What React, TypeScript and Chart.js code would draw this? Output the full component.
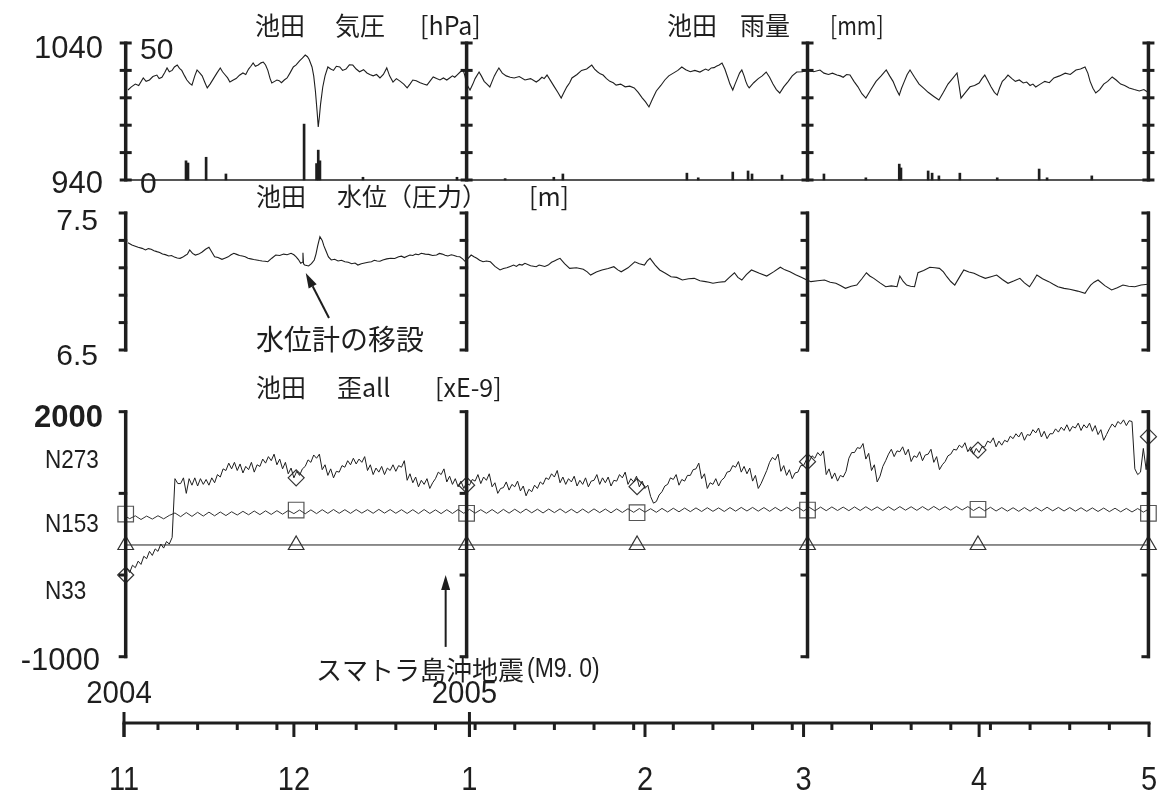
import React, { useEffect, useRef } from 'react';
import { Chart, registerables } from 'chart.js';

Chart.register(...registerables);

const W = 1163;
const H = 796;
const INK = '#1e1e1e';
const NUM = '"Liberation Sans", Arial, sans-serif';
const CJK = '"Noto Sans CJK JP", "Noto Sans CJK SC", sans-serif';

// ---- time axis: days since 2004-11-01 ----
const monthDays = [0, 30, 61, 92, 120, 151, 181];
const monthLabels = ['11', '12', '1', '2', '3', '4', '5'];
const yearDays = [0, 61];
const yearLabels = ['2004', '2005'];
const weekDays = [6, 13, 20, 27, 34, 41, 48, 55, 62, 69, 76, 83, 90, 97, 104, 111, 118, 125, 132, 139, 146, 153, 160, 167, 174];
const panelAxisDays = [0.3, 60.5, 120.7, 180.9];
const markerDays = [0.3, 30.4, 60.5, 90.6, 120.7, 150.8, 180.9];

// ---- axis tick values ----
const pressureTicks = [940, 960, 980, 1000, 1020, 1040];
const waterTicks = [6.5, 6.7, 6.9, 7.1, 7.3, 7.5];
const strainTicks = [-1000, 0, 1000, 2000];

// ---- 池田 気圧 [hPa]  (day, hPa) ----
const pressure: [number, number][] = [
  [0.7, 1005.7], [1.3, 1008], [2.0, 1010], [2.6, 1009], [3.4, 1014.5], [3.9, 1012], [4.5, 1013], [5.1, 1015.5], [5.8, 1016.6], [6.2, 1014], [6.7, 1015], [7.2, 1018.5], [7.6, 1021.8], [8.0, 1019], [8.5, 1020],
  [8.9, 1022.5], [9.4, 1023.9], [9.8, 1021.5], [10.2, 1020], [10.7, 1016], [11.1, 1013], [11.6, 1010.5], [12.0, 1009.3], [12.5, 1016], [12.9, 1020.3], [13.4, 1018], [13.8, 1016], [14.3, 1011], [14.7, 1007.2], [15.2, 1010], [15.8, 1014],
  [16.4, 1018], [17.0, 1021.8], [17.4, 1019], [17.8, 1017], [18.3, 1014.5], [18.7, 1011.5], [19.3, 1013], [19.8, 1014], [20.4, 1016.5], [21.0, 1018.1], [21.5, 1017], [22.0, 1021], [22.4, 1023], [22.8, 1025.4], [23.2, 1023], [23.7, 1024],
  [24.2, 1025.5], [24.6, 1026.1], [25.0, 1024], [25.4, 1020], [25.8, 1014], [26.1, 1010.8], [26.6, 1012], [27.0, 1013], [27.4, 1012.5], [27.8, 1011], [28.3, 1013], [28.8, 1014.5], [29.3, 1018], [29.9, 1022.5], [30.4, 1024], [31.0, 1027], [31.5, 1029],
  [32.0, 1031.2], [32.4, 1030], [32.7, 1028], [33.2, 1022.5], [33.5, 1016], [33.8, 1005], [34.1, 990], [34.3, 978.7], [34.5, 986], [34.7, 995], [35.1, 1007.9], [35.5, 1016], [36.0, 1022.5], [36.5, 1021], [37.0, 1020], [37.5, 1023], [38.1, 1022.5],
  [38.6, 1020], [39.2, 1021], [39.8, 1024], [40.4, 1023.9], [41.0, 1021], [41.6, 1019], [42.3, 1020.5], [42.9, 1018.1], [43.4, 1017], [44.0, 1016], [44.6, 1017], [45.2, 1014.5], [45.8, 1017], [46.4, 1021.8], [46.9, 1016], [47.5, 1011.5], [48.1, 1014], [48.8, 1012], [49.4, 1010], [50.0, 1007.2], [50.5, 1010], [51.0, 1013], [51.6, 1012.5],
  [52.3, 1011], [52.9, 1010], [53.5, 1009.3], [54.1, 1012.5], [54.6, 1015.2], [55.2, 1014], [55.8, 1013], [56.4, 1014.5], [57.0, 1013], [57.5, 1014.5], [58.0, 1016], [58.4, 1015], [58.8, 1016.6], [59.4, 1019], [59.9, 1020.3], [60.2, 1016], [60.5, 1010], [61.1, 1005.7], [61.6, 1010], [62.0, 1014],
  [62.7, 1018.8], [63.1, 1016], [63.6, 1012], [64.1, 1010], [64.6, 1007.9], [65.0, 1012], [65.4, 1016], [65.8, 1019], [66.2, 1021.8], [66.8, 1018], [67.5, 1016], [68.2, 1015], [68.9, 1014.5], [69.8, 1015.5], [70.8, 1013], [71.8, 1014],
  [72.8, 1011.5], [73.3, 1013], [73.8, 1015], [74.2, 1014], [74.7, 1016.6], [75.4, 1012], [76.0, 1008], [76.6, 1004], [77.2, 999.8], [77.7, 1004], [78.2, 1008], [78.7, 1011], [79.1, 1014.5], [80.0, 1017], [80.8, 1020], [81.7, 1021],
  [82.6, 1023.9], [83.1, 1021], [83.6, 1019], [84.1, 1017.5], [84.6, 1016.6], [85.2, 1014], [85.8, 1012], [86.4, 1011], [86.9, 1009.3], [87.7, 1010], [88.5, 1008], [89.3, 1008.5], [90.1, 1007.2], [90.8, 1004], [91.5, 1000],
  [92.1, 997], [92.7, 993.3], [93.3, 999], [94.0, 1005], [94.8, 1009], [95.5, 1013], [96.2, 1016], [97.0, 1018], [97.8, 1020], [98.5, 1022.5], [99.2, 1020.5], [100.0, 1019], [100.8, 1020], [101.7, 1018.8], [102.2, 1020], [102.7, 1021],
  [103.2, 1020], [103.7, 1021.8], [104.2, 1022], [104.6, 1023], [105.1, 1024], [105.6, 1025.4], [106.1, 1021], [106.6, 1015], [107.0, 1010], [107.5, 1005.7], [107.9, 1010], [108.3, 1014], [108.7, 1018], [109.1, 1020.3], [109.5, 1016], [109.8, 1012],
  [110.1, 1009], [110.4, 1007.2], [111.2, 1011], [112.0, 1014], [112.7, 1016], [113.4, 1018.8], [114.0, 1015], [114.6, 1010], [115.2, 1006], [115.8, 1003.5], [116.5, 1008], [117.3, 1012], [118.0, 1016], [118.8, 1018.8], [119.8, 1019], [120.8, 1020.3],
  [121.8, 1019], [122.9, 1020.3], [123.6, 1018], [124.4, 1017], [125.1, 1018], [125.9, 1016.6], [126.5, 1016], [127.0, 1015], [127.6, 1017], [128.2, 1016.6], [128.9, 1012], [129.6, 1008], [130.3, 1003], [131.0, 999.8], [131.9, 1006], [132.8, 1012],
  [133.7, 1016], [134.6, 1020.3], [135.2, 1016], [135.8, 1012], [136.4, 1006], [136.9, 1002], [137.3, 1007], [137.8, 1012], [138.3, 1017], [138.8, 1020.3], [139.6, 1015], [140.4, 1010], [141.2, 1007], [142.0, 1004], [143.0, 1001], [143.9, 998.4],
  [144.7, 1004], [145.5, 1010], [146.3, 1014], [147.1, 1018.1], [147.5, 1008], [147.8, 999.8], [148.6, 1004], [149.4, 1008], [150.2, 1009], [151.0, 1010.8], [151.5, 1014], [152.0, 1016.6], [152.6, 1012], [153.1, 1008], [153.7, 1004], [154.2, 1002],
  [154.6, 1007], [155.1, 1012], [155.6, 1014], [156.1, 1016.6], [156.8, 1014], [157.4, 1012], [158.1, 1013], [158.8, 1010.8], [159.4, 1011.5], [160.0, 1009], [160.5, 1010], [161.0, 1007.9], [161.8, 1010], [162.6, 1012], [163.4, 1011], [164.2, 1014.5],
  [165.2, 1016], [166.2, 1018], [167.1, 1017], [168.1, 1020.3], [168.9, 1021], [169.7, 1022.5], [170.2, 1018], [170.6, 1012], [171.1, 1007], [171.6, 1003.5], [172.3, 1006], [173.0, 1010], [173.7, 1012], [174.5, 1015.2], [175.2, 1013], [176.0, 1010],
  [176.7, 1009], [177.5, 1007.2], [178.4, 1006], [179.3, 1005], [180.1, 1006], [181.0, 1003.5],
];

// ---- 池田 雨量 [mm]  (day, mm) ----
const rain: [number, number][] = [
  [10.95, 7.0], [11.3, 6.2], [14.5, 8.3], [18.0, 2.2], [31.8, 20.4], [34.0, 6.0], [34.3, 10.9], [34.6, 7.0],
  [42.2, 1.0], [58.8, 1.0], [67.3, 0.5], [75.9, 1.0], [77.5, 2.2], [99.4, 2.5], [101.4, 0.8], [107.5, 2.9],
  [110.2, 3.3], [110.9, 2.2], [116.2, 1.8], [123.6, 2.2], [131.0, 0.8], [136.9, 5.8], [137.2, 4.4], [142.0, 3.3],
  [142.7, 2.5], [143.9, 1.5], [147.6, 2.5], [154.2, 0.8], [161.6, 4.0], [163.0, 0.8], [170.9, 1.5],
];

// ---- 池田 水位（圧力） [m]  (day, m) ----
const water: [number, number][] = [
  [0.7, 7.283], [1.4, 7.266], [2.0, 7.258], [2.5, 7.25], [3.2, 7.242], [3.8, 7.23], [4.3, 7.24], [4.8, 7.235], [5.3, 7.225], [5.8, 7.218], [6.3, 7.212], [6.8, 7.2], [7.3, 7.196], [7.9, 7.186],
  [8.4, 7.19], [8.9, 7.178], [9.4, 7.172], [9.9, 7.169], [10.4, 7.178], [10.8, 7.19], [11.2, 7.2], [11.6, 7.23], [12.1, 7.205], [12.6, 7.193], [13.2, 7.2], [13.8, 7.215], [14.4, 7.235], [15.0, 7.25], [15.5, 7.215], [16.0, 7.181],
  [16.6, 7.175], [17.3, 7.162], [17.8, 7.17], [18.4, 7.18], [18.9, 7.195], [19.4, 7.206], [19.9, 7.198], [20.4, 7.19], [20.9, 7.186], [21.4, 7.181], [21.9, 7.17], [22.4, 7.165], [22.9, 7.16], [23.4, 7.157], [23.9, 7.153], [24.4, 7.15], [24.9, 7.148],
  [25.4, 7.144], [26.1, 7.17], [26.8, 7.193], [27.5, 7.19], [28.2, 7.2], [28.8, 7.195], [29.5, 7.206], [30.0, 7.195], [30.4, 7.18], [30.8, 7.16], [31.2, 7.133], [31.5, 7.14], [31.6, 7.21], [31.7, 7.13],
  [31.9, 7.12], [32.6, 7.113], [33.1, 7.13], [33.6, 7.157], [33.9, 7.2], [34.2, 7.26], [34.6, 7.327], [35.0, 7.3], [35.3, 7.26], [35.6, 7.23], [36.1, 7.18], [36.6, 7.157], [37.2, 7.162], [37.8, 7.15], [38.4, 7.155],
  [39.0, 7.144], [39.6, 7.14], [40.2, 7.13], [40.8, 7.135], [41.3, 7.12], [41.9, 7.13], [42.5, 7.135], [43.1, 7.14], [43.7, 7.144], [44.2, 7.155], [44.7, 7.15], [45.2, 7.148], [45.7, 7.157], [46.4, 7.165], [47.1, 7.17], [47.8, 7.168], [48.5, 7.181], [49.0, 7.185], [49.5, 7.175], [50.0, 7.185], [50.5, 7.193], [51.0, 7.19], [51.5, 7.2], [52.0, 7.195], [52.5, 7.206], [53.2, 7.2], [53.8, 7.198], [54.5, 7.19], [55.2, 7.193],
  [55.7, 7.205], [56.2, 7.2], [56.7, 7.192], [57.2, 7.186], [57.8, 7.195], [58.3, 7.19], [58.8, 7.182], [59.3, 7.181], [59.8, 7.165], [60.3, 7.144], [60.8, 7.17], [61.3, 7.193], [61.8, 7.18], [62.3, 7.17], [62.8, 7.155], [63.4, 7.144], [64.0, 7.15],
  [64.7, 7.144], [65.5, 7.11], [66.4, 7.084], [67.0, 7.095], [67.6, 7.1], [68.2, 7.11], [68.8, 7.12], [69.3, 7.11], [69.8, 7.125], [70.3, 7.12], [70.8, 7.133], [71.8, 7.115], [72.8, 7.108], [73.3, 7.12], [73.8, 7.115], [74.3, 7.11],
  [74.9, 7.12], [75.5, 7.14], [76.0, 7.15], [76.5, 7.16], [77.0, 7.169], [77.8, 7.13], [78.7, 7.096], [79.9, 7.1], [81.1, 7.089], [81.8, 7.07], [82.4, 7.047], [83.4, 7.07], [84.4, 7.084], [85.5, 7.095], [86.5, 7.108], [87.2, 7.085],
  [87.8, 7.071], [89.0, 7.1], [90.2, 7.144], [91.0, 7.13], [91.9, 7.12], [92.4, 7.15], [92.9, 7.169], [93.8, 7.12], [94.6, 7.084], [95.6, 7.06], [96.6, 7.035], [97.6, 7.03], [98.6, 7.011], [99.7, 7.02], [100.7, 7.023],
  [101.7, 7.005], [102.7, 6.999], [103.3, 6.995], [104.0, 6.987], [105.0, 6.995], [106.1, 6.999], [106.9, 7.03], [107.8, 7.064], [108.4, 7.03], [109.1, 7.011], [109.9, 7.05], [110.8, 7.084], [112.2, 7.06], [113.5, 7.04], [114.7, 7.07], [115.9, 7.104],
  [116.7, 7.085], [117.6, 7.071], [118.6, 7.05], [119.6, 7.031], [120.4, 7.015], [121.3, 6.999], [122.5, 7.005], [123.7, 7.011], [124.7, 6.995], [125.7, 6.987], [126.5, 6.97], [127.4, 6.95], [128.4, 6.965], [129.4, 6.974], [130.3, 7.02], [131.1, 7.064],
  [131.7, 7.04], [132.4, 7.023], [133.5, 6.99], [134.5, 6.962], [135.5, 6.968], [136.5, 6.962], [137.0, 7.04], [137.6, 7.0], [138.2, 6.974], [138.9, 6.965], [139.6, 6.962], [140.2, 7.064], [141.2, 7.08], [142.3, 7.104], [143.2, 7.1],
  [144.0, 7.096], [144.7, 7.07], [145.3, 7.035], [146.0, 7.0], [146.7, 6.974], [147.5, 7.03], [148.3, 7.084], [149.2, 7.07], [150.1, 7.06], [151.1, 7.04], [152.1, 7.023], [153.1, 7.035], [154.1, 7.047], [155.1, 7.015], [156.1, 6.987],
  [157.2, 7.005], [158.2, 7.023], [159.0, 6.99], [159.9, 6.962], [160.5, 7.0], [161.2, 7.047], [162.2, 7.02], [163.3, 6.999], [164.1, 6.98], [164.9, 6.962], [166.0, 6.95], [167.0, 6.943], [168.4, 6.93], [169.7, 6.914], [170.2, 6.945], [170.7, 6.974],
  [171.3, 6.995], [172.0, 7.011], [173.2, 6.97], [174.4, 6.938], [175.4, 6.955], [176.4, 6.974], [177.4, 6.965], [178.5, 6.962], [179.6, 6.975], [180.8, 6.98],
];

// ---- 池田 歪all [xE-9] ----
// N273: one value every half day (day 0, 0.5, 1, ... 181)
const n273 = [
  0, 80, 30, 120, 90, 170, 130, 230, 200, 290, 240, 320, 290, 380, 330, 410, 380, 460, 1180, 1120,
  1120, 1190, 1000, 1180, 1100, 1190, 1090, 1180, 1110, 1170, 1100, 1190, 1130, 1230, 1200, 1300, 1280, 1370, 1300, 1380,
  1280, 1360, 1250, 1330, 1290, 1380, 1260, 1350, 1330, 1420, 1370, 1450, 1400, 1480, 1350, 1420, 1300, 1380, 1240, 1310,
  1190, 1270, 1220, 1300, 1330, 1410, 1380, 1470, 1430, 1480, 1290, 1350, 1220, 1300, 1190, 1270, 1260, 1340, 1320, 1400,
  1350, 1430, 1360, 1420, 1380, 1450, 1280, 1350, 1230, 1310, 1260, 1330, 1230, 1310, 1280, 1350, 1270, 1340, 1320, 1400,
  1160, 1240, 1130, 1200, 1080, 1160, 1110, 1180, 1060, 1130, 1180, 1260, 1230, 1300, 1140, 1210, 1110, 1180, 1080, 1150,
  1060, 1130, 1100, 1170, 1150, 1230, 1120, 1200, 1160, 1240, 1080, 1130, 1000, 1060, 1070, 1140, 1040, 1110, 1080, 1150,
  1030, 1090, 970, 1050, 1020, 1100, 1060, 1140, 1110, 1190, 1170, 1240, 1200, 1280, 1130, 1200, 1110, 1180, 1140, 1210,
  1090, 1160, 1110, 1190, 1080, 1150, 1160, 1230, 1110, 1190, 1130, 1200, 1090, 1160, 1150, 1230, 1190, 1260, 1110, 1180,
  1140, 1210, 1080, 1150, 1060, 1100, 960, 880, 900, 980, 1020, 1090, 1110, 1190, 1170, 1230, 1100, 1170, 1150, 1220,
  1220, 1290, 1300, 1370, 1180, 1240, 1060, 1130, 1110, 1180, 1090, 1160, 1190, 1260, 1270, 1340, 1320, 1390, 1260, 1330,
  1240, 1310, 1150, 1220, 1060, 1120, 1200, 1280, 1380, 1440, 1410, 1480, 1270, 1340, 1220, 1290, 1180, 1250, 1260, 1340,
  1340, 1410, 1390, 1460, 1430, 1500, 1460, 1520, 1230, 1300, 1180, 1250, 1150, 1220, 1200, 1270, 1430, 1500, 1500, 1560,
  1550, 1610, 1420, 1490, 1280, 1350, 1140, 1210, 1330, 1400, 1480, 1540, 1450, 1520, 1510, 1570, 1470, 1540, 1390, 1460,
  1440, 1510, 1400, 1470, 1480, 1540, 1380, 1450, 1290, 1350, 1390, 1460, 1480, 1540, 1530, 1590, 1560, 1620, 1510, 1570,
  1480, 1550, 1500, 1570, 1570, 1640, 1620, 1680, 1570, 1640, 1590, 1650, 1630, 1700, 1670, 1730, 1690, 1750, 1650, 1720,
  1710, 1780, 1740, 1800, 1690, 1760, 1670, 1730, 1730, 1790, 1750, 1810, 1770, 1840, 1760, 1820, 1800, 1860, 1770, 1840,
  1800, 1860, 1760, 1830, 1720, 1780, 1650, 1720, 1790, 1850, 1810, 1880, 1850, 1900, 1830, 1890, 1880, 1300, 1230, 1260,
  1550, 1290, 1700,
];
// N153: one value per day (day 0..181)
const n153 = [
  730, 690, 725, 680, 722, 685, 726, 688, 730, 760,
  715, 765, 718, 768, 722, 770, 725, 772, 728, 775,
  735, 780, 738, 784, 740, 786, 742, 788, 745, 790,
  752, 796, 750, 798, 752, 800, 755, 802, 756, 800,
  755, 802, 758, 800, 756, 804, 758, 802, 756, 800,
  754, 800, 752, 802, 754, 798, 752, 800, 754, 802,
  756, 804, 758, 800, 756, 802, 754, 804, 758, 806,
  760, 808, 762, 806, 760, 808, 764, 810, 762, 806,
  760, 808, 762, 810, 764, 808, 762, 810, 766, 812,
  768, 814, 770, 812, 768, 816, 772, 818, 774, 820,
  776, 822, 778, 824, 780, 822, 778, 826, 782, 828,
  784, 828, 782, 826, 780, 828, 784, 830, 786, 828,
  784, 830, 786, 832, 788, 834, 790, 832, 788, 834,
  790, 836, 792, 834, 790, 836, 792, 838, 794, 836,
  792, 838, 794, 840, 796, 838, 794, 840, 796, 838,
  790, 832, 786, 830, 784, 826, 782, 824, 780, 826,
  782, 828, 784, 830, 786, 828, 784, 826, 782, 824,
  780, 822, 778, 820, 776, 818, 774, 816, 772, 814,
  770, 810,
];
const n33 = [368, 368, 368, 368, 368, 368, 368];
const n273Markers = [0, 1190, 1100, 1082, 1388, 1530, 1694];
const n153Markers = [747, 796, 756, 763, 796, 805, 756];

// ---- layout (pixels) ----
const X0 = 124; // pixel of day 0
const X1 = 1149; // pixel of day 181
const P1 = [43, 180];
const P2 = [213, 350];
const P3 = [411.7, 656.7];
const AXIS_Y = 723;

function yRange(vTop: number, vBot: number, yTop: number, yBot: number) {
  const per = (vTop - vBot) / (yBot - yTop);
  return { min: vBot - (H - yBot) * per, max: vTop + yTop * per };
}
const pxPerDay = (X1 - X0) / 181;

function txt(ctx: CanvasRenderingContext2D, s: string, x: number, y: number, font: string, align: CanvasTextAlign = 'left', sx = 1) {
  ctx.save();
  ctx.font = font;
  ctx.textAlign = align;
  ctx.textBaseline = 'middle';
  ctx.translate(x, y);
  ctx.scale(sx, 1);
  ctx.fillText(s, 0, 0);
  ctx.restore();
}

function arrow(ctx: CanvasRenderingContext2D, x1: number, y1: number, x2: number, y2: number) {
  const ang = Math.atan2(y2 - y1, x2 - x1);
  const hl = 15, hw = 4.5;
  const bx = x2 - Math.cos(ang) * hl, by = y2 - Math.sin(ang) * hl;
  ctx.lineWidth = 2;
  ctx.beginPath();
  ctx.moveTo(x1, y1);
  ctx.lineTo(bx, by);
  ctx.stroke();
  ctx.beginPath();
  ctx.moveTo(x2, y2);
  ctx.lineTo(bx + Math.sin(ang) * hw, by - Math.cos(ang) * hw);
  ctx.lineTo(bx - Math.sin(ang) * hw, by + Math.cos(ang) * hw);
  ctx.closePath();
  ctx.fill();
}

const overlay = {
  id: 'overlay',
  afterDatasetsDraw(chart: any) {
    const ctx: CanvasRenderingContext2D = chart.ctx;
    const sx = chart.scales.x, yP = chart.scales.yP, yR = chart.scales.yR, yW = chart.scales.yW, yS = chart.scales.yS;
    const X = (d: number) => sx.getPixelForValue(d);
    ctx.save();
    ctx.strokeStyle = INK;
    ctx.fillStyle = INK;
    const seg = (x1: number, y1: number, x2: number, y2: number, w: number) => {
      ctx.lineWidth = w;
      ctx.beginPath();
      ctx.moveTo(x1, y1);
      ctx.lineTo(x2, y2);
      ctx.stroke();
    };

    // rain zero line
    const y0 = yR.getPixelForValue(0);
    seg(X(0), y0, X(181), y0, 1.5);

    // panel 1 axes (ticks on both sides)
    for (const d of panelAxisDays) {
      const px = X(d);
      seg(px, yP.getPixelForValue(1040) - 1.5, px, yP.getPixelForValue(940) + 1.5, 3.5);
      for (const t of pressureTicks) {
        const py = yP.getPixelForValue(t);
        seg(px - 6, py, px + 6, py, 3);
      }
    }
    // panel 2 & 3 bracket axes
    const bracket = (scale: any, ticks: number[], top: number, bot: number) => {
      for (const d of panelAxisDays) {
        const px = X(d);
        seg(px, scale.getPixelForValue(top) - 1.5, px, scale.getPixelForValue(bot) + 1.5, 3.5);
        for (const t of ticks) {
          const py = scale.getPixelForValue(t);
          seg(px - 7, py, px + 1.5, py, 3);
        }
      }
    };
    bracket(yW, waterTicks, 7.5, 6.5);
    bracket(yS, strainTicks, 2000, -1000);

    // bottom time axis
    seg(X(0) - 1.5, AXIS_Y, X(181) + 1.5, AXIS_Y, 3);
    for (const d of weekDays) seg(X(d), AXIS_Y, X(d), AXIS_Y + 7, 3);
    for (const d of monthDays) seg(X(d), AXIS_Y, X(d), AXIS_Y + 14, 3);
    for (const d of yearDays) seg(X(d), AXIS_Y - 11, X(d), AXIS_Y + 14, 3);
    monthDays.forEach((d, i) => txt(ctx, monthLabels[i], X(d), 781, `33px ${NUM}`, 'center', 0.88));
    yearDays.forEach((d, i) => txt(ctx, yearLabels[i], X(d) - 5, 694, `31px ${NUM}`, 'center', 0.95));

    // titles
    const tf = `25px ${CJK}`;
    txt(ctx, '池田', 255, 25, tf); txt(ctx, '気圧', 335, 25, tf); txt(ctx, '[hPa]', 420, 25, tf);
    txt(ctx, '池田', 667, 25, tf); txt(ctx, '雨量', 740, 25, tf); txt(ctx, '[mm]', 830, 25, tf, 'left', 0.85);
    txt(ctx, '池田', 256, 196, tf); txt(ctx, '水位（圧力）', 337, 196, tf); txt(ctx, '[m]', 529, 196, tf);
    txt(ctx, '池田', 256, 387, tf); txt(ctx, '歪all', 337, 387, tf); txt(ctx, '[xE-9]', 435, 387, tf);

    // panel 1 scale labels
    txt(ctx, '1040', 103, yP.getPixelForValue(1040) + 6, `31px ${NUM}`, 'right');
    txt(ctx, '940', 103, yP.getPixelForValue(940) + 4, `31px ${NUM}`, 'right');
    txt(ctx, '50', 140, yR.getPixelForValue(50) + 8, `30px ${NUM}`, 'left');
    txt(ctx, '0', 140, yR.getPixelForValue(0) + 5, `30px ${NUM}`, 'left');
    // panel 2
    txt(ctx, '7.5', 98, yW.getPixelForValue(7.5) + 9, `30px ${NUM}`, 'right');
    txt(ctx, '6.5', 98, yW.getPixelForValue(6.5) + 7, `30px ${NUM}`, 'right');
    // panel 3
    txt(ctx, '2000', 103, yS.getPixelForValue(2000) + 7, `bold 31px ${NUM}`, 'right');
    txt(ctx, '-1000', 100, yS.getPixelForValue(-1000) + 5, `31px ${NUM}`, 'right');
    txt(ctx, 'N273', 45, 461, `25px ${NUM}`, 'left', 0.9);
    txt(ctx, 'N153', 45, 525, `25px ${NUM}`, 'left', 0.9);
    txt(ctx, 'N33', 45, 592, `25px ${NUM}`, 'left', 0.9);

    // annotations
    arrow(ctx, X(36.2), yW.getPixelForValue(6.734), X(32.1), yW.getPixelForValue(7.062));
    txt(ctx, '水位計の移設', 256, 339, `28px ${CJK}`);
    arrow(ctx, X(56.8), yS.getPixelForValue(-880), X(56.8), yS.getPixelForValue(0));
    txt(ctx, 'スマトラ島沖地震', 316, 670, `26px ${CJK}`);
    txt(ctx, '(M9. 0)', 527, 670, `27px ${NUM}`, 'left', 0.85);
    ctx.restore();
  },
};

export default function App() {
  const ref = useRef<HTMLCanvasElement | null>(null);
  useEffect(() => {
    if (!ref.current) return;
    const rP = yRange(1040, 940, P1[0], P1[1]);
    const rR = yRange(50, 0, P1[0], P1[1]);
    const rW = yRange(7.5, 6.5, P2[0], P2[1]);
    const rS = yRange(2000, -1000, P3[0], P3[1]);
    const lineBase = { pointRadius: 0, tension: 0, fill: false, borderColor: INK };
    const chart = new Chart(ref.current, {
      type: 'line',
      data: {
        datasets: [
          { ...lineBase, label: '気圧', data: pressure.map(([x, y]) => ({ x, y })), yAxisID: 'yP', borderWidth: 1.1 } as any,
          { type: 'bar', label: '雨量', data: rain.map(([x, y]) => ({ x, y })), yAxisID: 'yR', backgroundColor: INK, barThickness: 2 } as any,
          { ...lineBase, label: '水位', data: water.map(([x, y]) => ({ x, y })), yAxisID: 'yW', borderWidth: 1.1 } as any,
          { ...lineBase, label: 'N273', data: n273.map((y, i) => ({ x: i / 2, y })), yAxisID: 'yS', borderWidth: 1 } as any,
          { ...lineBase, label: 'N153', data: n153.map((y, x) => ({ x, y })), yAxisID: 'yS', borderWidth: 1, borderColor: '#333' } as any,
          {
            label: 'N33', data: markerDays.map((x, i) => ({ x, y: n33[i] })), yAxisID: 'yS', borderColor: INK, borderWidth: 1,
            tension: 0, pointStyle: 'triangle', pointRadius: 9, pointBorderColor: '#333', pointBorderWidth: 1.2,
            pointBackgroundColor: 'rgba(0,0,0,0)',
          } as any,
          {
            label: 'N273 marks', data: markerDays.map((x, i) => ({ x, y: n273Markers[i] })), yAxisID: 'yS', showLine: false,
            pointStyle: 'rectRot', pointRadius: 8, pointBorderColor: '#333', pointBorderWidth: 1.2, pointBackgroundColor: 'rgba(0,0,0,0)',
          } as any,
          {
            label: 'N153 marks', data: markerDays.map((x, i) => ({ x, y: n153Markers[i] })), yAxisID: 'yS', showLine: false,
            pointStyle: 'rect', pointRadius: 11, pointBorderColor: '#555', pointBorderWidth: 1.2, pointBackgroundColor: 'rgba(0,0,0,0)',
          } as any,
        ],
      },
      options: {
        animation: false,
        responsive: false,
        maintainAspectRatio: false,
        devicePixelRatio: 1,
        events: [],
        layout: { padding: 0, autoPadding: false },
        plugins: { legend: { display: false }, tooltip: { enabled: false }, title: { display: false } },
        scales: {
          x: { type: 'linear', display: false, offset: false, min: -X0 / pxPerDay, max: 181 + (W - X1) / pxPerDay },
          yP: { type: 'linear', display: false, min: rP.min, max: rP.max },
          yR: { type: 'linear', display: false, min: rR.min, max: rR.max },
          yW: { type: 'linear', display: false, min: rW.min, max: rW.max },
          yS: { type: 'linear', display: false, min: rS.min, max: rS.max },
        },
      } as any,
      plugins: [overlay],
    });
    return () => chart.destroy();
  }, []);
  return (
    <div style={{ position: 'fixed', left: 0, top: 0, width: W, height: H, background: '#fff' }}>
      <canvas ref={ref} width={W} height={H} style={{ display: 'block', width: W, height: H }} />
    </div>
  );
}
